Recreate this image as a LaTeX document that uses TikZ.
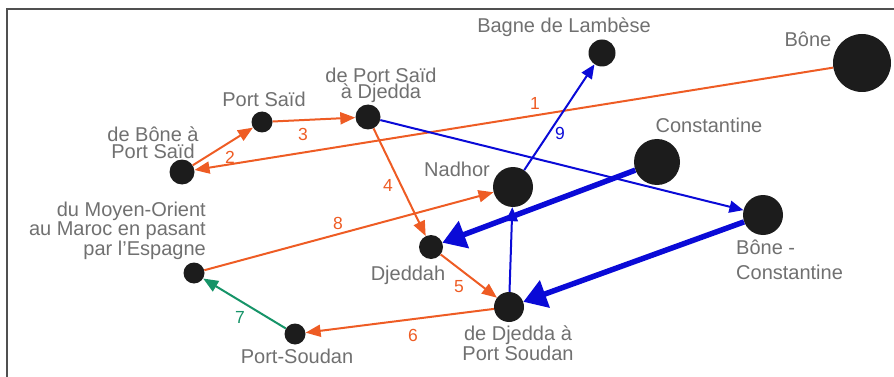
\documentclass[tikz,border=0pt]{standalone}
\usepackage{fontspec}
\setmainfont{Liberation Sans}
\usetikzlibrary{arrows.meta}
\definecolor{dotc}{RGB}{28,28,28}
\definecolor{txt}{RGB}{112,112,112}
\definecolor{org}{RGB}{238,92,36}
\definecolor{blu}{RGB}{10,10,215}
\definecolor{grn}{RGB}{22,148,104}
\definecolor{frm}{RGB}{80,80,80}
\tikzset{
  dot/.style={circle, fill=dotc, inner sep=0pt, minimum size=#1},
  lbl/.style={text=txt, font=\fontsize{20}{17}\selectfont, inner sep=0pt, align=center},
  num/.style={font=\fontsize{17.5}{17.5}\selectfont, inner sep=0pt},
  oarr/.style={draw=org, line width=2pt, -{Triangle[length=15pt,width=12pt]}},
  barr/.style={draw=blu, line width=2pt, -{Triangle[length=14pt,width=12pt]}},
  bthick/.style={draw=blu, line width=5.5pt, -{Triangle[length=23pt,width=28pt]}},
  garr/.style={draw=grn, line width=2pt, -{Triangle[length=15pt,width=12pt]}},
}
\begin{document}
\begin{tikzpicture}[x=1pt,y=-1pt]
\useasboundingbox (0,0) rectangle (894,377);
\coordinate (fa) at (7,377);
\coordinate (fb) at (7,9);
\coordinate (fc) at (894,9);
\draw[frm, line width=1.5pt] (fa) -- (fb) -- (fc);

% nodes (dots)
\node[dot=58pt] (bone) at (862,63) {};
\node[dot=27pt] (bagne) at (602,53) {};
\node[dot=46pt] (const) at (657,162) {};
\node[dot=40pt] (nadhor) at (513,187) {};
\node[dot=40pt] (bonec) at (763,215) {};
\node[dot=30pt] (djps) at (509,307) {};
\node[dot=24pt] (djeddah) at (431,247) {};
\node[dot=21pt] (psoudan) at (295,334) {};
\node[dot=21pt] (moyen) at (194,273) {};
\node[dot=25pt] (boneps) at (182,172) {};
\node[dot=21pt] (psaid) at (262,122) {};
\node[dot=25pt] (psdj) at (368,117) {};

% texts (anchor at the baseline of the last line)
\node[lbl, anchor=base] (tbagne) at (564,33) {Bagne de Lambèse};
\node[lbl, anchor=base] (tbone) at (808,47) {Bône};
\node[lbl, anchor=base] (tconst) at (709,133) {Constantine};
\node[lbl, anchor=base] (tnadhor) at (457,176) {Nadhor};
\node[lbl, anchor=base] (tdjeddah) at (408,280) {Djeddah};
\node[lbl, anchor=base] (tpsoudan) at (297,363) {Port-Soudan};
\node[lbl, anchor=base east, align=right, font=\fontsize{20}{18.5}\selectfont] (tmoyen) at (206,255) {du Moyen-Orient\\au Maroc en pasant\\par l'Espagne};
\node[lbl, anchor=base, font=\fontsize{20}{20}\selectfont] (tdjps) at (518,360) {de Djedda à\\Port Soudan};
\node[lbl, anchor=base west, align=left, font=\fontsize{20}{25}\selectfont] (tbonec) at (736,279) {Bône -\\Constantine};
\node[lbl, anchor=base, font=\fontsize{20}{16.5}\selectfont] (tboneps) at (153,158) {de Bône à\\Port Saïd};
\node[lbl, anchor=base] (tpsaid) at (264,107) {Port Saïd};
\node[lbl, anchor=base, font=\fontsize{20}{16.5}\selectfont] (tpsdj) at (381,99) {de Port Saïd\\à Djedda};

% connectors
\draw[oarr] (bone) -- (boneps);
\draw[oarr] (boneps) -- (psaid);
\draw[oarr] (psaid) -- (psdj);
\draw[oarr] (psdj) -- (djeddah);
\draw[oarr] (djeddah) -- (djps);
\draw[oarr] (djps) -- (psoudan);
\draw[garr] (psoudan) -- (moyen);
\draw[oarr] (moyen) -- (nadhor);
\draw[barr] (nadhor) -- (bagne);
\draw[barr] (psdj) -- (bonec);
\draw[barr] (djps) -- (nadhor);
\draw[bthick] (const) -- (djeddah);
\draw[bthick] (bonec) -- (djps);

% numbers
\node[num, text=org] (n1) at (535,103) {1};
\node[num, text=org] (n2) at (230,157) {2};
\node[num, text=org] (n3) at (303,134) {3};
\node[num, text=org] (n4) at (388,185) {4};
\node[num, text=org] (n5) at (459,287) {5};
\node[num, text=org] (n6) at (413,335) {6};
\node[num, text=grn] (n7) at (240,317) {7};
\node[num, text=org] (n8) at (338,223) {8};
\node[num, text=blu] (n9) at (560,133) {9};
\end{tikzpicture}
\end{document}
